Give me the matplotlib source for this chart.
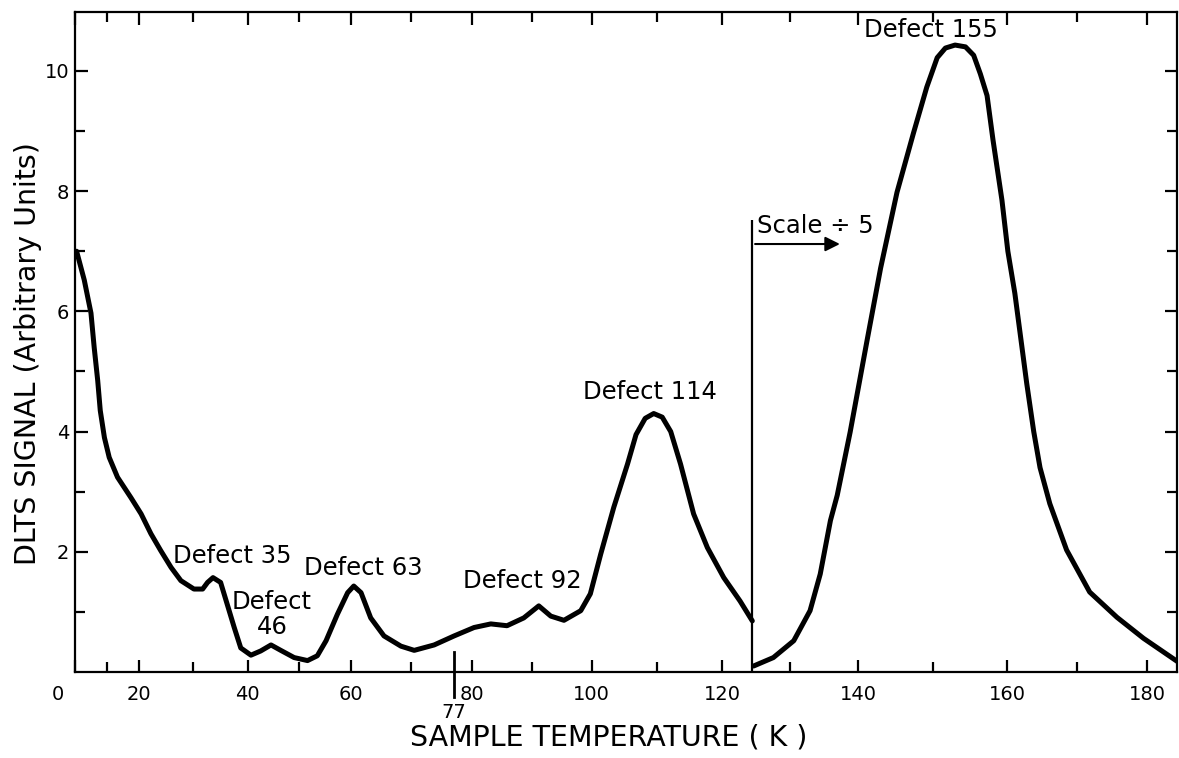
import numpy as np
import matplotlib
matplotlib.use('Agg')
import matplotlib.pyplot as plt
from matplotlib.ticker import FixedLocator, NullFormatter
from matplotlib.transforms import ScaledTranslation, blended_transform_factory

# chart paper temperature axis is not linear (thermocouple scale)
scale_K = [-20, 0, 20, 40, 60, 80, 100, 120, 140, 160, 180, 200]
scale_div = [10, 74, 138, 247, 350, 471, 591, 722, 858, 1007, 1147, 1287]

# DLTS trace, full scale (below the break)
temps_lo = [0.5, 2.9, 5.0, 6.0, 7.1, 7.9, 9.2, 10.7, 13.3, 17.5, 20.4, 22.2, 24.0,
            25.9, 27.7, 30.1, 31.7, 32.6, 33.6, 35.0, 36.2, 37.5, 38.7, 40.6, 42.5,
            44.5, 46.4, 49.0, 51.6, 53.5, 55.2, 57.4, 59.4, 60.5, 61.7, 63.3, 65.5,
            68.3, 70.5, 73.8, 77.1, 80.4, 83.2, 85.9, 88.7, 91.2, 93.2, 95.4, 98.2,
            99.8, 101.4, 103.4, 105.5, 106.8, 108.2, 109.5, 110.8, 112.1, 113.6,
            115.6, 117.7, 120.2, 122.6, 124.4]
signal_lo = [7.0, 6.52, 5.97, 5.4, 4.85, 4.35, 3.9, 3.57, 3.24, 2.9, 2.63, 2.3, 2.02,
             1.74, 1.52, 1.38, 1.38, 1.49, 1.57, 1.49, 1.13, 0.74, 0.4, 0.28, 0.35,
             0.45, 0.36, 0.24, 0.19, 0.27, 0.52, 0.96, 1.32, 1.43, 1.32, 0.9, 0.6,
             0.43, 0.36, 0.45, 0.6, 0.74, 0.8, 0.77, 0.9, 1.1, 0.93, 0.86, 1.02,
             1.3, 1.96, 2.74, 3.46, 3.95, 4.22, 4.3, 4.24, 4.0, 3.46,
             2.63, 2.07, 1.57, 1.18, 0.85]

# DLTS trace after the break, scale divided by 5
temps_hi = [124.6, 127.5, 130.5, 132.9, 134.4, 135.9, 136.9, 138.8, 141.2, 143.0,
            145.2, 147.4, 149.2, 150.6, 151.7, 153.0, 154.4, 155.5, 156.4, 157.3,
            158.1, 159.3, 160.1, 161.1, 162.8, 163.8, 164.7, 166.1, 168.5, 171.8,
            175.7, 179.5, 184.4]
signal_hi = [0.1, 0.24, 0.52, 1.02, 1.63, 2.52, 2.94, 3.99, 5.53, 6.72,
             7.98, 8.96, 9.73, 10.22, 10.38, 10.43, 10.4, 10.26, 9.95, 9.59,
             8.85, 7.85, 7.0, 6.3, 4.8, 4.0, 3.4, 2.8, 2.03, 1.33,
             0.91, 0.56, 0.17]

scale_break_K = 124.4
break_top = 7.52
liquid_n2_K = 77

defect_labels = ["Defect 35", "Defect\n46", "Defect 63", "Defect 92", "Defect 114", "Defect 155"]
defect_x = [37.1, 44.7, 62.0, 88.5, 109.0, 149.7]
defect_y = [1.93, 0.95, 1.73, 1.52, 4.65, 10.68]

x_major = [0, 20, 40, 60, 80, 100, 120, 140, 160, 180]
x_minor = [10, 30, 50, 70, 90, 110, 130, 150, 170]
y_major = [2, 4, 6, 8, 10]
y_minor = [1, 3, 5, 7, 9]


def fwd(t):
    return np.interp(t, scale_K, scale_div)


def inv(p):
    return np.interp(p, scale_div, scale_K)


fig = plt.figure(figsize=(11.79, 7.58), dpi=100)
ax = fig.add_axes([75/1179, 1-672/758, (1177-75)/1179, (672-12)/758])
ax.set_xscale('function', functions=(fwd, inv))
ax.set_xlim(0, float(inv(1177)))
ax.set_ylim(0, 10.98)

lw = 3.6
ax.plot(temps_lo, signal_lo, color='black', lw=lw, solid_joinstyle='round', solid_capstyle='round')
ax.plot(temps_hi, signal_hi, color='black', lw=lw, solid_joinstyle='round', solid_capstyle='round')

# scale change marker
ax.vlines(scale_break_K, 0, break_top, color='black', lw=1.6)
ax.annotate('', xy=(137.7, 7.12), xytext=(scale_break_K, 7.12),
            arrowprops=dict(arrowstyle='-|>', color='black', lw=1.5, mutation_scale=22))
ax.text(125.1, 7.42, 'Scale \u00f7 5', fontsize=17.5, ha='left', va='center')

for lab, x, y in zip(defect_labels, defect_x, defect_y):
    ax.text(x, y, lab, fontsize=17.5, ha='center', va='center', linespacing=1.05)

# 77 K mark across the axis
ax.axvline(liquid_n2_K, ymin=-0.038, ymax=0.03, color='black', lw=2, clip_on=False)
trans = blended_transform_factory(ax.transData, ax.transAxes)
ax.text(liquid_n2_K, -0.061, '77', transform=trans, fontsize=14, ha='center', va='center')

ax.xaxis.set_major_locator(FixedLocator(x_major))
ax.xaxis.set_minor_locator(FixedLocator(x_minor))
ax.xaxis.set_minor_formatter(NullFormatter())
ax.set_xticklabels([str(v) for v in x_major])
ax.yaxis.set_major_locator(FixedLocator(y_major))
ax.yaxis.set_minor_locator(FixedLocator(y_minor))
ax.yaxis.set_minor_formatter(NullFormatter())

ax.tick_params(which='both', direction='in', top=True, right=True, width=1.6, labelsize=14)
ax.tick_params(which='major', length=9)
ax.tick_params(which='minor', length=7.5)
ax.tick_params(axis='x', pad=9)
ax.tick_params(axis='y', pad=4)
for s in ax.spines.values():
    s.set_linewidth(1.6)

zero_lbl = ax.xaxis.get_major_ticks()[0].label1
zero_lbl.set_transform(zero_lbl.get_transform() + ScaledTranslation(-0.17, 0, fig.dpi_scale_trans))

ax.set_xlabel('SAMPLE TEMPERATURE ( K )', fontsize=20.5)
ax.xaxis.set_label_coords(0.484, -0.078)
ax.set_ylabel('DLTS SIGNAL (Arbitrary Units)', fontsize=20.5)
ax.yaxis.set_label_coords(-0.03, 0.483)

fig.savefig('out.png', dpi=100)
